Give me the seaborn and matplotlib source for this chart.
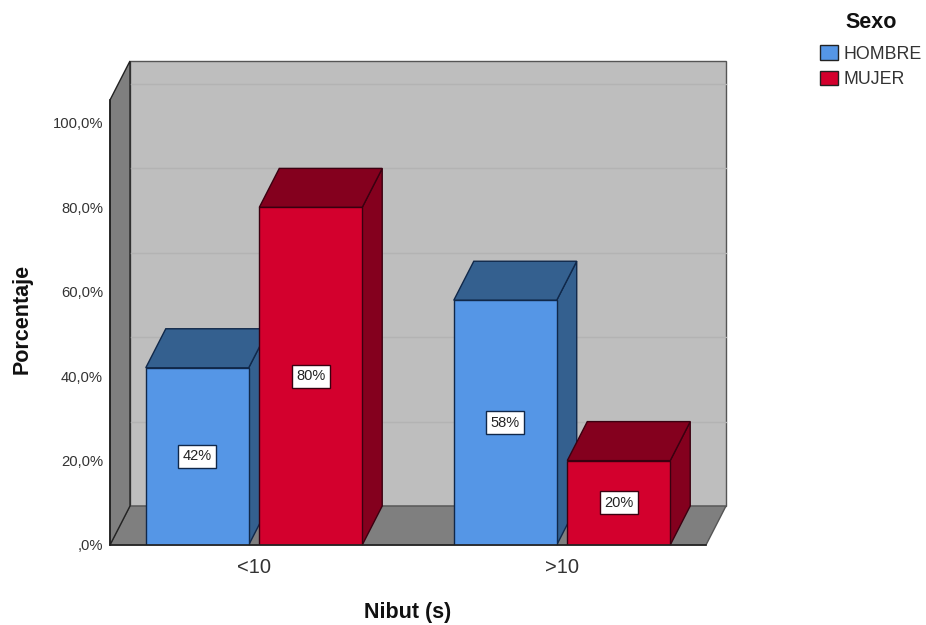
import matplotlib
matplotlib.use("Agg")
import matplotlib.pyplot as plt
from matplotlib.patches import Polygon
from matplotlib.transforms import ScaledTranslation
import pandas as pd
import seaborn as sns

# Survey percentages per break-up time group and sex
categories = ["<10", ">10"]
sexes = ["HOMBRE", "MUJER"]
hombre_values = [42, 58]
mujer_values = [80, 20]
y_ticks = [0, 20, 40, 60, 80, 100]
y_tick_labels = [",0%", "20,0%", "40,0%", "60,0%", "80,0%", "100,0%"]

FRONT = {"HOMBRE": "#5596E6", "MUJER": "#D3002D"}
SHADE = {"HOMBRE": "#34608F", "MUJER": "#84001E"}
EDGE = {"HOMBRE": "#10284A", "MUJER": "#3A0010"}
WALL, SIDE, GRID, LINE = "#BEBEBE", "#7F7F7F", "#B3B3B3", "#222222"
TEXT = "#333333"
DEPTH_X, DEPTH_Y = 0.20, 0.39  # inches of oblique depth

sns.set_theme(style="white")
plt.rcParams["font.family"] = ["Liberation Sans", "DejaVu Sans"]

df = pd.DataFrame({
    "Nibut (s)": categories * 2,
    "Sexo": [sexes[0]] * 2 + [sexes[1]] * 2,
    "Porcentaje": hombre_values + mujer_values,
})

fig = plt.figure(figsize=(9.26, 6.25), dpi=100)
ax = fig.add_axes([110 / 926, 80 / 625, 596 / 926, 445 / 625])
ax.patch.set_alpha(0)

sns.barplot(
    data=df, x="Nibut (s)", y="Porcentaje", hue="Sexo", order=categories,
    hue_order=sexes, palette=FRONT, width=0.737, gap=0.093, errorbar=None,
    edgecolor=LINE, linewidth=1.0, saturation=1, ax=ax,
)
ax.set_xlim(-0.4675, 1.4675)
ax.set_ylim(0, 105.45)

# Oblique projection: everything at the back is shifted by a fixed offset
back = ax.transData + ScaledTranslation(DEPTH_X, DEPTH_Y, fig.dpi_scale_trans)
x0, x1 = ax.get_xlim()
y0, y1 = ax.get_ylim()


def corner_path(xa, xb, ya, yb):
    """Display-space quad running from a front edge to its projected back edge."""
    fa = ax.transData.transform([(xa, ya), (xb, yb)])
    ba = back.transform([(xb, yb), (xa, ya)])
    return list(fa) + list(ba)


def add_quad(points, color, edge, z, lw=1.0):
    ax.add_patch(Polygon(points, closed=True, facecolor=color, edgecolor=edge,
                         linewidth=lw, zorder=z, clip_on=False, transform=None))


# Back wall, floor and left wall
add_quad([back.transform(p) for p in [(x0, y0), (x1, y0), (x1, y1), (x0, y1)]],
         WALL, "#555555", 0.5)
for level in y_ticks[1:]:
    ax.plot([x0, x1], [level, level], color=GRID, lw=1.0, transform=back,
            zorder=0.6, clip_on=False)
add_quad(corner_path(x0, x1, y0, y0), SIDE, "#555555", 0.7)
add_quad(corner_path(x0, x0, y0, y1), SIDE, LINE, 0.8)

# Extrude each bar, left to right so nearer faces overlap correctly
containers = {sex: c for sex, c in zip(sexes, ax.containers)}
ordered = sorted(
    ((bar, sex) for sex, c in containers.items() for bar in c),
    key=lambda item: item[0].get_x(),
)
for i, (bar, sex) in enumerate(ordered):
    xa, xb = bar.get_x(), bar.get_x() + bar.get_width()
    top = bar.get_height()
    z = 2 + i
    add_quad(corner_path(xb, xb, 0, top), SHADE[sex], EDGE[sex], z)
    add_quad(corner_path(xa, xb, top, top), SHADE[sex], EDGE[sex], z)
    bar.set_zorder(z + 0.5)
    bar.set_edgecolor(EDGE[sex])

# Value labels in boxed tags at the middle of each front face
for sex, container in containers.items():
    labels = ax.bar_label(
        container, fmt="%.0f%%", label_type="center", fontsize=10.5,
        color="#222222",
        bbox=dict(boxstyle="square,pad=0.3", facecolor="white",
                  edgecolor=EDGE[sex], linewidth=1.0),
    )
    for label in labels:
        label.set_zorder(20)

for side in ("top", "right"):
    ax.spines[side].set_visible(False)
for side in ("left", "bottom"):
    ax.spines[side].set_color(LINE)
    ax.spines[side].set_linewidth(1.2)
    ax.spines[side].set_zorder(15)

ax.set_yticks(y_ticks, y_tick_labels)
ax.tick_params(axis="y", length=0, pad=5, labelsize=10.6, labelcolor=TEXT)
ax.tick_params(axis="x", length=0, pad=9.5, labelsize=14.5, labelcolor=TEXT)
ax.set_xlabel("Nibut (s)", fontsize=15.5, fontweight="bold", color="#111111", labelpad=18)
ax.set_ylabel("Porcentaje", fontsize=15.5, fontweight="bold", color="#111111",
              labelpad=14, y=0.508)

sns.move_legend(
    ax, "upper left", bbox_to_anchor=(815 / 926, 618 / 625),
    bbox_transform=fig.transFigure, frameon=False, title="Sexo",
    fontsize=12.8, handlelength=1.0, handleheight=0.85, handletextpad=0.3,
    labelspacing=0.45, borderpad=0.3, borderaxespad=0,
)
legend = ax.get_legend()
legend.get_title().set_fontsize(15.5)
legend.get_title().set_fontweight("bold")
legend.get_title().set_color("#111111")
legend._legend_box.sep += 3
for text in legend.get_texts():
    text.set_color(TEXT)
legend.set_zorder(30)

fig.savefig("out.png", dpi=100, facecolor="white")
